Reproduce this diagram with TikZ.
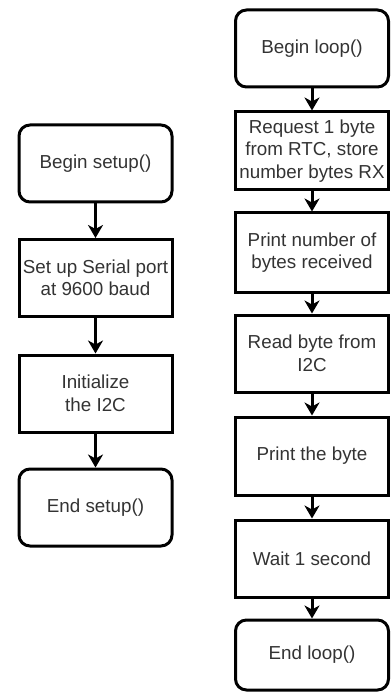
\documentclass[tikz,border=0pt]{standalone}
\usepackage{fontspec}
\setmainfont{Liberation Sans}
\usetikzlibrary{arrows.meta}
\definecolor{inkline}{RGB}{0,0,0}
\definecolor{inktext}{RGB}{51,51,51}
\begin{document}
\begin{tikzpicture}[x=1pt,y=1pt,
  every node/.style={font=\fontsize{18.8}{22.5}\selectfont, text=inktext, align=center, inner sep=0pt},
  procbox/.style={draw=inkline, line width=3pt, minimum width=153pt, minimum height=77pt},
  termbox/.style={procbox, rounded corners=11pt},
  flow/.style={draw=inkline, line width=3pt, -{Stealth[length=13pt,width=15pt,inset=4pt]}}]
  \useasboundingbox (0,0) rectangle (391,-692);

  % setup() sequence
  \node[termbox] (bs) at (95.5,-163.5) {Begin setup()};
  \node[procbox] (sp) at (95.5,-278) {Set up Serial port\\at 9600 baud};
  \node[procbox] (ii) at (95.5,-393.5) {Initialize\\the I2C};
  \node[termbox] (es) at (95.5,-507.5) {End setup()};

  % loop() sequence
  \node[termbox] (bl) at (312,-48.5) {Begin loop()};
  \node[procbox, minimum height=78pt] (rq) at (312,-151) {Request 1 byte\\from RTC, store\\number bytes RX};
  \node[procbox, minimum height=79pt] (pn) at (312,-252.5) {Print number of\\bytes received};
  \node[procbox] (rb) at (312,-353.5) {Read byte from\\I2C};
  \node[procbox, minimum height=78pt] (pb) at (312,-456) {Print the byte};
  \node[procbox] (wt) at (312,-558.5) {Wait 1 second};
  \node[termbox, minimum height=70pt] (el) at (312,-655) {End loop()};

  \draw[flow] (bs) -- (sp);
  \draw[flow] (sp) -- (ii);
  \draw[flow] (ii) -- (es);

  \draw[flow] (bl) -- (rq);
  \draw[flow] (rq) -- (pn);
  \draw[flow] (pn) -- (rb);
  \draw[flow] (rb) -- (pb);
  \draw[flow] (pb) -- (wt);
  \draw[flow] (wt) -- (el);
\end{tikzpicture}
\end{document}
